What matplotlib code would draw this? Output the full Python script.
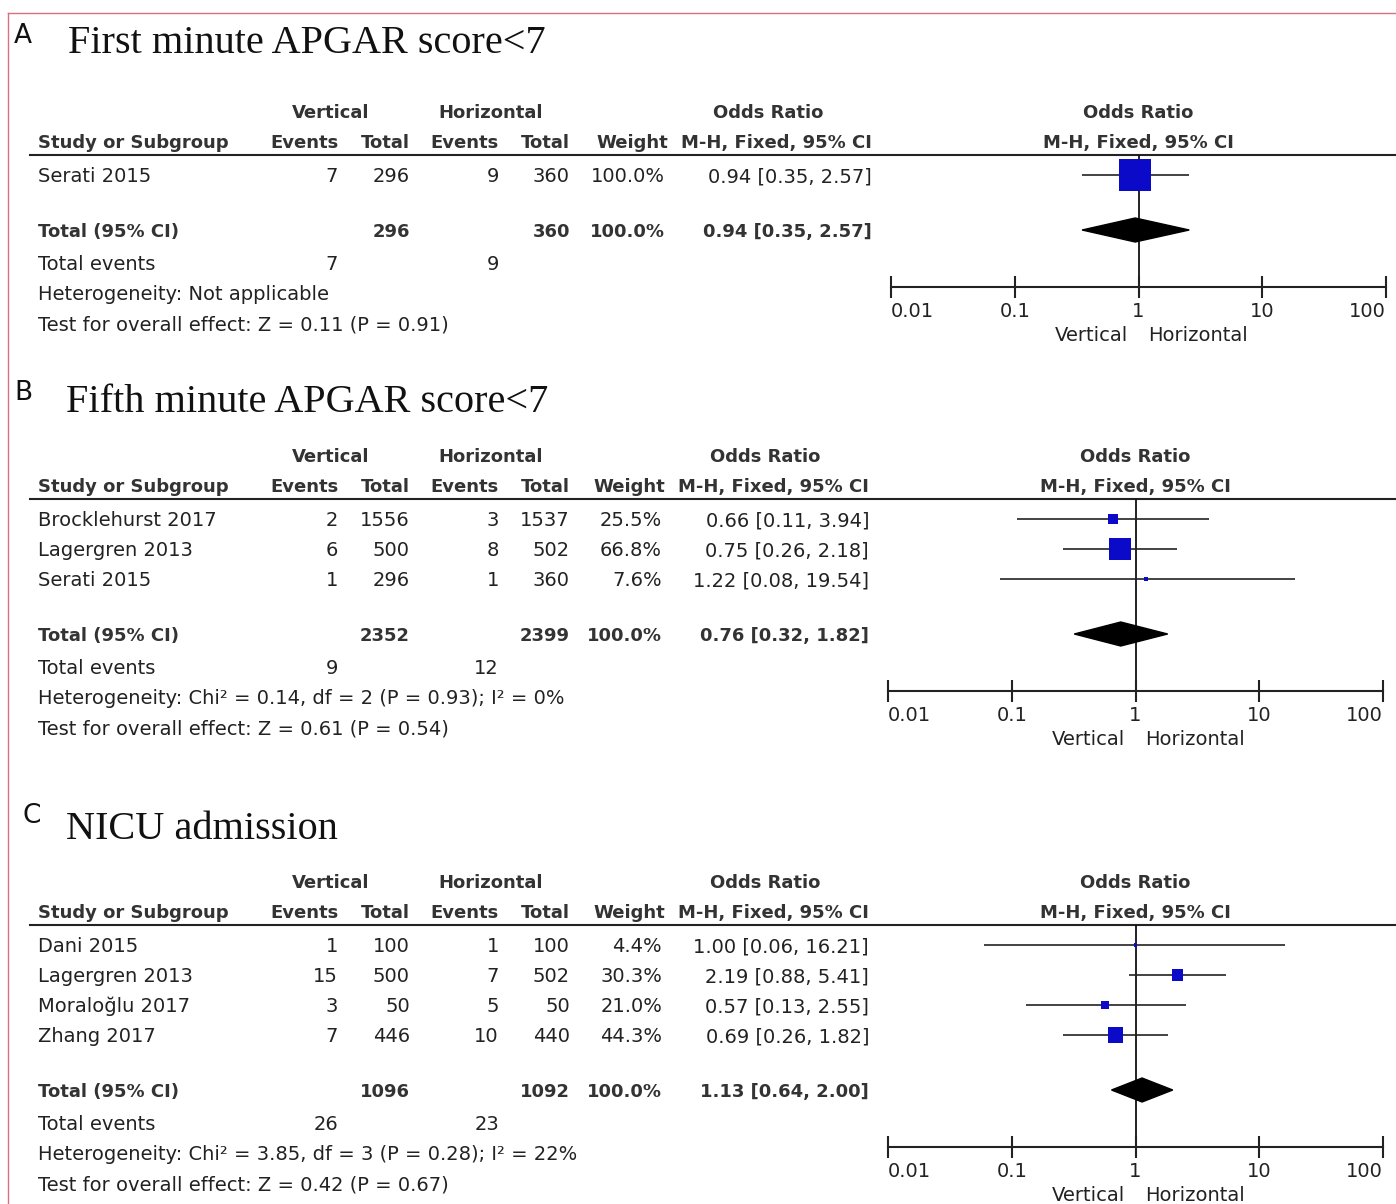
import matplotlib
matplotlib.use('Agg')
import matplotlib.pyplot as plt
from matplotlib.patches import Polygon
from matplotlib.ticker import NullLocator

W, H = 1396, 1204

# ---- A: first minute APGAR score < 7
a_studies = ['Serati 2015']
a_vert_events = [7]
a_vert_total = [296]
a_horiz_events = [9]
a_horiz_total = [360]
a_weight = [100.0]
a_or = [0.94]
a_lo = [0.35]
a_hi = [2.57]
a_sum_n = (296, 360)
a_sum_events = (7, 9)
a_sum_or = (0.94, 0.35, 2.57)
a_het = 'Heterogeneity: Not applicable'
a_test = 'Test for overall effect: Z = 0.11 (P = 0.91)'

# ---- B: fifth minute APGAR score < 7
b_studies = ['Brocklehurst 2017', 'Lagergren 2013', 'Serati 2015']
b_vert_events = [2, 6, 1]
b_vert_total = [1556, 500, 296]
b_horiz_events = [3, 8, 1]
b_horiz_total = [1537, 502, 360]
b_weight = [25.5, 66.8, 7.6]
b_or = [0.66, 0.75, 1.22]
b_lo = [0.11, 0.26, 0.08]
b_hi = [3.94, 2.18, 19.54]
b_sum_n = (2352, 2399)
b_sum_events = (9, 12)
b_sum_or = (0.76, 0.32, 1.82)
b_het = 'Heterogeneity: Chi\u00b2 = 0.14, df = 2 (P = 0.93); I\u00b2 = 0%'
b_test = 'Test for overall effect: Z = 0.61 (P = 0.54)'

# ---- C: NICU admission
c_studies = ['Dani 2015', 'Lagergren 2013', 'Moralo\u011flu 2017', 'Zhang 2017']
c_vert_events = [1, 15, 3, 7]
c_vert_total = [100, 500, 50, 446]
c_horiz_events = [1, 7, 5, 10]
c_horiz_total = [100, 502, 50, 440]
c_weight = [4.4, 30.3, 21.0, 44.3]
c_or = [1.00, 2.19, 0.57, 0.69]
c_lo = [0.06, 0.88, 0.13, 0.26]
c_hi = [16.21, 5.41, 2.55, 1.82]
c_sum_n = (1096, 1092)
c_sum_events = (26, 23)
c_sum_or = (1.13, 0.64, 2.00)
c_het = 'Heterogeneity: Chi\u00b2 = 3.85, df = 3 (P = 0.28); I\u00b2 = 22%'
c_test = 'Test for overall effect: Z = 0.42 (P = 0.67)'

panels = [
    dict(letter='A', title='First minute APGAR score<7', studies=a_studies,
         ve=a_vert_events, vt=a_vert_total, he=a_horiz_events, ht=a_horiz_total,
         w=a_weight, orr=a_or, lo=a_lo, hi=a_hi, sn=a_sum_n, se=a_sum_events,
         so=a_sum_or, het=a_het, test=a_test,
         rule=155, title_y=40, title_x=68, letter_xy=(14, 33), dx=3),
    dict(letter='B', title='Fifth minute APGAR score<7', studies=b_studies,
         ve=b_vert_events, vt=b_vert_total, he=b_horiz_events, ht=b_horiz_total,
         w=b_weight, orr=b_or, lo=b_lo, hi=b_hi, sn=b_sum_n, se=b_sum_events,
         so=b_sum_or, het=b_het, test=b_test,
         rule=499, title_y=399, title_x=66, letter_xy=(14, 390), dx=0),
    dict(letter='C', title='NICU admission', studies=c_studies,
         ve=c_vert_events, vt=c_vert_total, he=c_horiz_events, ht=c_horiz_total,
         w=c_weight, orr=c_or, lo=c_lo, hi=c_hi, sn=c_sum_n, se=c_sum_events,
         so=c_sum_or, het=c_het, test=c_test,
         rule=925, title_y=826, title_x=66, letter_xy=(22, 813), dx=0),
]

TXT = '#222222'
HDR = '#333333'
BLUE = '#0a0ac8'

fig = plt.figure(figsize=(W / 100, H / 100), dpi=100)
bg = fig.add_axes([0, 0, 1, 1])
bg.set_xlim(0, W)
bg.set_ylim(H, 0)
bg.axis('off')

# thin pink frame on the left and top
bg.plot([8, 8], [13, H], color='#d8707f', lw=1)
bg.plot([8, W], [13, 13], color='#d8707f', lw=1)


def txt(x, y, s, ha='left', bold=False, size=None, color=None):
    if size is None:
        size = 13 if bold else 14
    off = 0.365 * size * 100 / 72
    bg.text(x, y + off, s, ha=ha, va='baseline', fontsize=size,
            fontweight='bold' if bold else 'normal',
            color=color or (HDR if bold else TXT), family='DejaVu Sans')


def fmt_or(o, l, h):
    return f'{o:.2f} [{l:.2f}, {h:.2f}]'


for p in panels:
    r = p['rule']
    dx = p['dx']
    x_ve, x_vt, x_he, x_ht = 338, 410, 499, 570
    x_w, x_or = 662 + dx, 869 + dx
    fx0 = 888 + dx
    fx1 = fx0 + 495
    fx_one = (fx0 + fx1) / 2

    # panel letter and title
    lx, ly = p['letter_xy']
    txt(lx, ly, p['letter'], size=19, color='#111111')
    bg.text(p['title_x'], p['title_y'] + 13, p['title'], fontsize=29,
            family='Liberation Serif', va='baseline', color='#111111')

    # headers
    h1, h2 = r - 44, r - 14
    txt(331, h1, 'Vertical', ha='center', bold=True)
    txt(491, h1, 'Horizontal', ha='center', bold=True)
    txt(765 + dx, h1, 'Odds Ratio', ha='center', bold=True)
    txt(fx_one, h1, 'Odds Ratio', ha='center', bold=True)
    txt(38, h2, 'Study or Subgroup', bold=True)
    txt(x_ve + 1, h2, 'Events', ha='right', bold=True)
    txt(x_vt, h2, 'Total', ha='right', bold=True)
    txt(x_he, h2, 'Events', ha='right', bold=True)
    txt(x_ht, h2, 'Total', ha='right', bold=True)
    txt(x_w + 3, h2, 'Weight', ha='right', bold=True)
    txt(x_or, h2, 'M-H, Fixed, 95% CI', ha='right', bold=True)
    txt(fx_one, h2, 'M-H, Fixed, 95% CI', ha='center', bold=True)
    bg.plot([30, W], [r, r], color='#222222', lw=1.5)

    # study rows
    ys = [r + 20 + 30 * i for i in range(len(p['studies']))]
    for i, y in enumerate(ys):
        txt(38, y, p['studies'][i])
        txt(x_ve, y, str(p['ve'][i]), ha='right')
        txt(x_vt, y, str(p['vt'][i]), ha='right')
        txt(x_he, y, str(p['he'][i]), ha='right')
        txt(x_ht, y, str(p['ht'][i]), ha='right')
        txt(x_w, y, f"{p['w'][i]:.1f}%", ha='right')
        txt(x_or, y, fmt_or(p['orr'][i], p['lo'][i], p['hi'][i]), ha='right')

    # totals
    yt = ys[-1] + 55
    txt(38, yt, 'Total (95% CI)', bold=True)
    txt(x_vt, yt, str(p['sn'][0]), ha='right', bold=True)
    txt(x_ht, yt, str(p['sn'][1]), ha='right', bold=True)
    txt(x_w, yt, '100.0%', ha='right', bold=True)
    txt(x_or, yt, fmt_or(*p['so']), ha='right', bold=True)
    ye = yt + 33
    txt(38, ye, 'Total events')
    txt(x_ve, ye, str(p['se'][0]), ha='right')
    txt(x_he, ye, str(p['se'][1]), ha='right')
    txt(38, ye + 30, p['het'])
    txt(38, ye + 60, p['test'])

    # forest plot
    y_axis = yt + 57
    ax = fig.add_axes([fx0 / W, 1 - y_axis / H, (fx1 - fx0) / W, (y_axis - r) / H])
    ax.patch.set_alpha(0)
    ax.set_xscale('log')
    ax.set_xlim(0.01, 100)
    ax.set_ylim(y_axis, r)
    for s in ['top', 'right', 'left']:
        ax.spines[s].set_visible(False)
    ax.spines['bottom'].set_linewidth(1.5)
    ax.spines['bottom'].set_color('#222222')
    ax.set_yticks([])
    ax.set_xticks([0.01, 0.1, 1, 10, 100])
    ax.set_xticklabels(['0.01', '0.1', '1', '10', '100'])
    ax.xaxis.set_minor_locator(NullLocator())
    ax.tick_params(axis='x', direction='inout', length=16, width=1.5,
                   pad=3, labelsize=14, labelcolor=TXT, color='#222222')
    labels = ax.get_xticklabels()
    labels[0].set_ha('left')
    labels[-1].set_ha('right')
    ax.axvline(1, color='#111111', lw=1.3, zorder=1)

    ax.hlines(ys, p['lo'], p['hi'], color='#222222', lw=1.2, zorder=2)
    sides = [2 + 0.3 * w for w in p['w']]
    ax.scatter(p['orr'], ys, marker='s', s=[(sd * 0.72) ** 2 for sd in sides],
               color=BLUE, linewidths=0, zorder=3)
    est, lo, hi = p['so']
    dh = 12
    ax.add_patch(Polygon([(lo, yt), (est, yt - dh), (hi, yt), (est, yt + dh)],
                         closed=True, color='black', zorder=3))

    txt(fx_one - 10, y_axis + 47, 'Vertical', ha='right')
    txt(fx_one + 10, y_axis + 47, 'Horizontal', ha='left')

fig.savefig('out.png', dpi=100)
